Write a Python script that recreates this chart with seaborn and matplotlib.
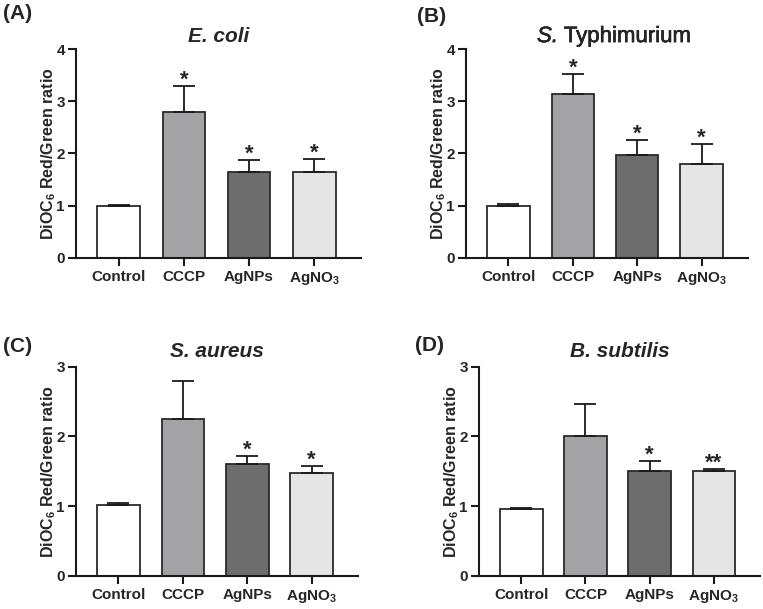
import seaborn as sns
import matplotlib.pyplot as plt
import matplotlib.patheffects as pe
import pandas as pd

# Data (mean, upper error)
groups = ["Control", "CCCP", "AgNPs", "AgNO3"]
tick_labels = ["Control", "CCCP", "AgNPs", r"AgNO$_3$"]

ecoli_mean = [0.99, 2.80, 1.64, 1.65]
ecoli_err = [0.03, 0.50, 0.24, 0.25]
ecoli_sig = ["", "*", "*", "*"]

styph_mean = [0.99, 3.14, 1.97, 1.79]
styph_err = [0.04, 0.39, 0.29, 0.39]
styph_sig = ["", "*", "*", "*"]

saureus_mean = [1.02, 2.25, 1.60, 1.47]
saureus_err = [0.03, 0.54, 0.12, 0.11]
saureus_sig = ["", "", "*", "*"]

bsub_mean = [0.96, 2.01, 1.51, 1.50]
bsub_err = [0.01, 0.45, 0.14, 0.04]
bsub_sig = ["", "", "*", "**"]

colors = ["#ffffff", "#a3a3a7", "#6d6d6d", "#e5e5e5"]

sns.set_style("ticks")
plt.rcParams["font.family"] = ["Liberation Sans", "DejaVu Sans"]
plt.rcParams["font.weight"] = "bold"
plt.rcParams["mathtext.fontset"] = "custom"
plt.rcParams["mathtext.rm"] = "Liberation Sans:bold"
plt.rcParams["mathtext.bf"] = "Liberation Sans:bold"
plt.rcParams["mathtext.it"] = "Liberation Sans:bold:italic"

fig = plt.figure(figsize=(7.63, 6.09), dpi=100)

# label, title, data, ymax, axes rect, panel-label position, title pad
panels = [
    ("(A)", "E. coli", ecoli_mean, ecoli_err, ecoli_sig, 4,
     [0.0996, 0.5764, 0.3734, 0.3431], (0.004, 0.994), 5),
    ("(B)", None, styph_mean, styph_err, styph_sig, 4,
     [0.6107, 0.5764, 0.3696, 0.3431], (0.546, 0.988), 5),
    ("(C)", "S. aureus", saureus_mean, saureus_err, saureus_sig, 3,
     [0.0996, 0.0542, 0.3696, 0.3437], (0.004, 0.447), 7),
    ("(D)", "B. subtilis", bsub_mean, bsub_err, bsub_sig, 3,
     [0.6278, 0.0542, 0.3682, 0.3437], (0.544, 0.449), 7),
]

for label, title, mean, err, sig, ymax, rect, lpos, tpad in panels:
    ax = fig.add_axes(rect)
    df = pd.DataFrame({"group": groups, "value": mean})
    sns.barplot(data=df, x="group", y="value", hue="group", palette=colors,
                edgecolor="#2a2a2a", linewidth=1.3, width=0.66, legend=False, ax=ax)
    ax.errorbar(range(len(groups)), mean, yerr=[[0] * len(err), err], fmt="none",
                ecolor="#1a1a1a", elinewidth=1.3, capsize=8, capthick=1.3)
    for i, s in enumerate(sig):
        if s:
            ax.annotate(s, (i, mean[i] + err[i]), xytext=(0, 0),
                        textcoords="offset points", ha="center", va="baseline",
                        fontsize=16, fontweight="bold")
    ax.set_xlim(-0.66, 3.72)
    ax.set_ylim(0, ymax)
    ax.set_yticks(range(ymax + 1))
    ax.set_xticks(range(len(groups)))
    ax.set_xticklabels(tick_labels)
    ax.set_xlabel("")
    ax.set_ylabel(r"DiOC$_6$ Red/Green ratio", fontsize=11.5, fontweight="bold", labelpad=-1)
    ax.tick_params(axis="both", labelsize=11, width=1.5, length=5.5, color="#1a1a1a")
    ax.tick_params(axis="y", pad=2.5)
    for t in ax.get_xticklabels() + ax.get_yticklabels():
        t.set_fontweight("bold")
    sns.despine(ax=ax)
    for sp in ["left", "bottom"]:
        ax.spines[sp].set_linewidth(1.5)
        ax.spines[sp].set_color("#1a1a1a")
    if title:
        ax.set_title(title, fontsize=15, fontweight="bold", style="italic", pad=tpad)
    else:
        thick = [pe.withStroke(linewidth=0.4, foreground="black")]
        t1 = ax.text(0.252, 1.0 + tpad / 72 * 100 / (rect[3] * 609), "S.",
                     transform=ax.transAxes, ha="left", va="baseline",
                     fontsize=16, style="italic", fontweight="normal", path_effects=thick)
        ax.annotate(" Typhimurium", xy=(1, 0), xycoords=t1, ha="left", va="bottom",
                    fontsize=16, fontweight="normal", path_effects=thick)
    fig.text(lpos[0], lpos[1], label, fontsize=15, fontweight="bold",
             ha="left", va="top")

fig.savefig("out.png", dpi=100)
